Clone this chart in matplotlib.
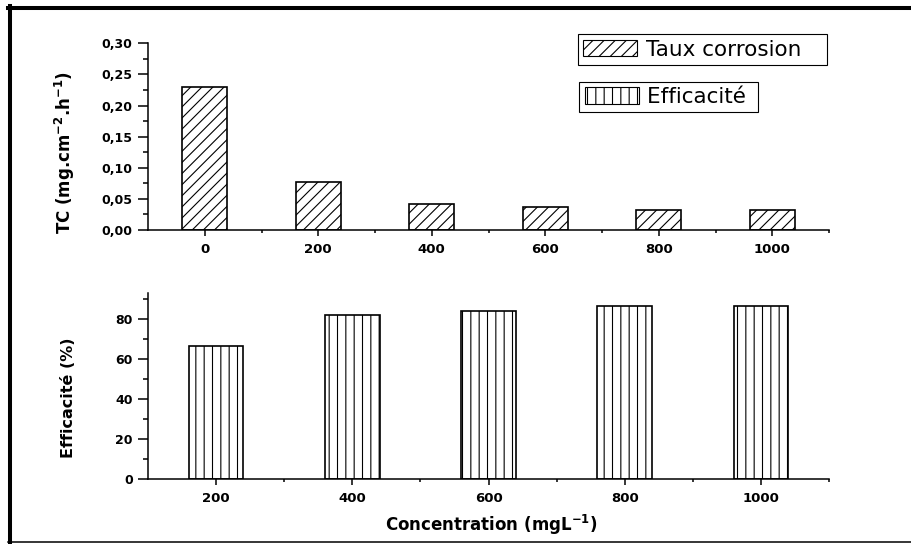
import numpy as np
import matplotlib
matplotlib.use("Agg")
from matplotlib import pyplot as plt
from matplotlib.lines import Line2D
from matplotlib.patches import Patch
from matplotlib.ticker import FuncFormatter, MultipleLocator, FixedLocator

# data
conc_tc = ["0", "200", "400", "600", "800", "1000"]
taux_corrosion = [0.229, 0.077, 0.041, 0.0365, 0.032, 0.032]
conc_eff = ["200", "400", "600", "800", "1000"]
efficacite = [66.6, 82.3, 84.3, 86.5, 86.5]

W, H = 912, 544
plt.rcParams['font.family'] = ['DejaVu Sans']
plt.rcParams['mathtext.default'] = 'bf'
plt.rcParams['hatch.linewidth'] = 0.8

fig = plt.figure(figsize=(W / 100, H / 100), dpi=100)


def fx(px):
    return px / W


def fy(px):
    return 1 - px / H


def style_axis(ax):
    ax.spines['top'].set_visible(False)
    ax.spines['right'].set_visible(False)
    for s in ('left', 'bottom'):
        ax.spines[s].set_linewidth(1.1)
    ax.tick_params(axis='y', which='major', direction='out', length=7, width=1.1,
                   pad=4, labelsize=9)
    ax.tick_params(axis='y', which='minor', direction='out', length=3.5, width=1.1)
    ax.tick_params(axis='x', which='major', direction='out', length=4.3, width=1.1,
                   pad=5, labelsize=9.5)
    ax.tick_params(axis='x', which='minor', direction='out', length=2, width=1.1)
    for lab in ax.get_xticklabels() + ax.get_yticklabels():
        lab.set_fontweight('bold')


# top panel: corrosion rate
ax1 = fig.add_axes([fx(148), fy(230), fx(829 - 148), (230 - 43.3) / H])
x1 = np.arange(len(conc_tc))
ax1.bar(x1, taux_corrosion, width=0.4, color='white', edgecolor='black',
        linewidth=1.2, hatch='///')
ax1.set_xlim(-0.5, len(conc_tc) - 0.5)
ax1.set_ylim(0, 0.30)
ax1.set_xticks(x1)
ax1.set_xticklabels(conc_tc)
ax1.xaxis.set_minor_locator(FixedLocator(x1 + 0.5))
ax1.yaxis.set_major_locator(MultipleLocator(0.05))
ax1.yaxis.set_minor_locator(MultipleLocator(0.025))
ax1.yaxis.set_major_formatter(FuncFormatter(lambda v, p: f"{v:.2f}".replace('.', ',')))
style_axis(ax1)

# bottom panel: efficiency
ax2 = fig.add_axes([fx(148), fy(479.3), fx(829 - 148), (479.3 - 293.3) / H])
x2 = np.arange(len(conc_eff))
ax2.bar(x2, efficacite, width=0.4, color='white', edgecolor='black',
        linewidth=1.2, hatch='||')
ax2.set_xlim(-0.5, len(conc_eff) - 0.5)
ax2.set_ylim(0, 93)
ax2.set_xticks(x2)
ax2.set_xticklabels(conc_eff)
ax2.xaxis.set_minor_locator(FixedLocator(x2 + 0.5))
ax2.yaxis.set_major_locator(MultipleLocator(20))
ax2.yaxis.set_minor_locator(MultipleLocator(10))
style_axis(ax2)

# axis titles
fig.text(fx(65), fy(153), r'TC (mg.cm$^{-2}$.h$^{-1}$)', rotation=90,
         ha='center', va='center', fontsize=12, fontweight='bold')
fig.text(fx(68.5), fy(398), 'Efficacité (%)', rotation=90,
         ha='center', va='center', fontsize=11.5, fontweight='bold')
fig.text(fx(491), fy(525), r'Concentration (mgL$^{-1}$)',
         ha='center', va='center', fontsize=12, fontweight='bold')

# two separate legends
leg_kw = dict(loc='upper left', fontsize=15.5, frameon=True, fancybox=False,
              edgecolor='black', framealpha=1, handlelength=2.5, handleheight=0.8,
              handletextpad=0.4, borderpad=0.25, borderaxespad=0)
h1 = Patch(facecolor='white', edgecolor='black', hatch='///', linewidth=0.8)
h2 = Patch(facecolor='white', edgecolor='black', hatch='||', linewidth=0.8)
l1 = fig.legend([h1], ['Taux corrosion   '], bbox_to_anchor=(fx(578), fy(34.3)), **leg_kw)
l2 = fig.legend([h2], ['Efficacité '], bbox_to_anchor=(fx(579.3), fy(81.7)), **leg_kw)
for lg in (l1, l2):
    lg.get_frame().set_linewidth(0.8)

# outer frame (thick top/left, thin bottom)
fig.add_artist(Line2D([fx(8), fx(912)], [fy(8), fy(8)], color='black', lw=2.9,
                      transform=fig.transFigure))
fig.add_artist(Line2D([fx(10), fx(10)], [fy(6), fy(542)], color='black', lw=2.9,
                      transform=fig.transFigure))
fig.add_artist(Line2D([fx(8), fx(912)], [fy(542), fy(542)], color='black', lw=1.1,
                      transform=fig.transFigure))

fig.savefig('out.png', dpi=100)
